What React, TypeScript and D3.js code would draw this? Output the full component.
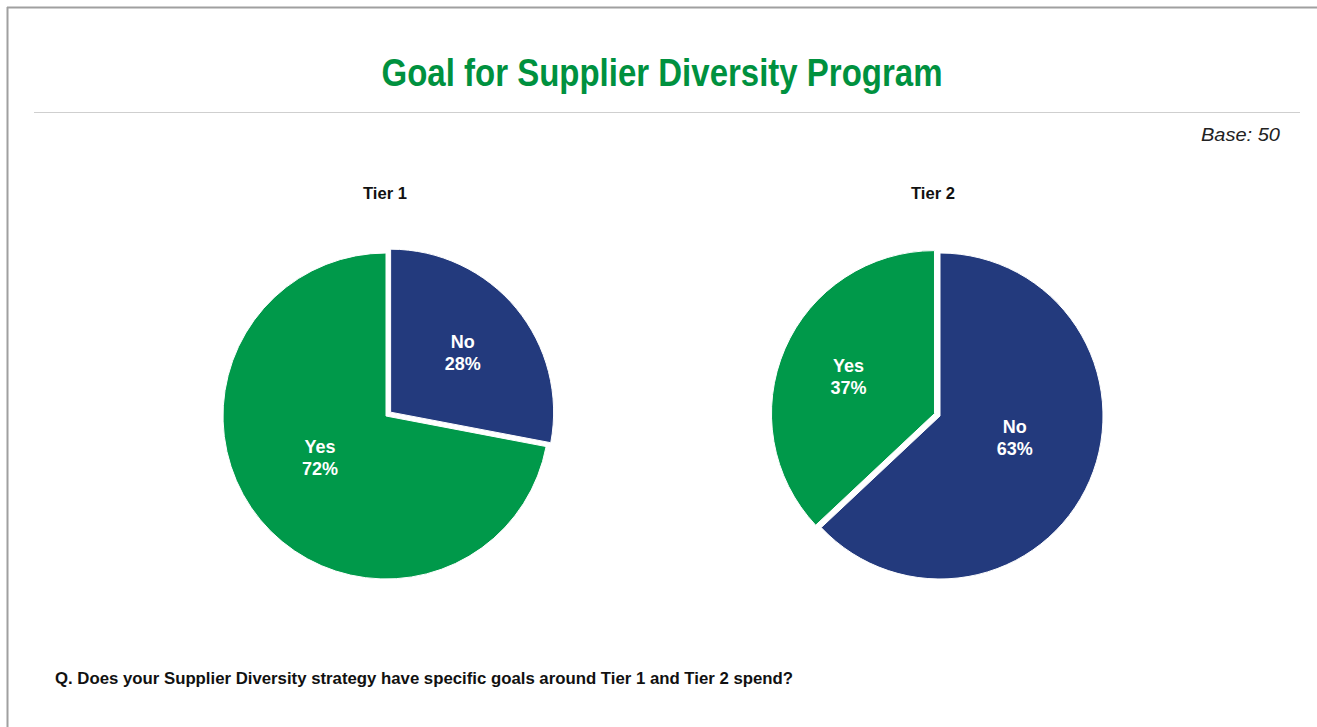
import React from "react";
import * as d3 from "d3";

const W = 1317;
const H = 727;

const TITLE = "Goal for Supplier Diversity Program";
const BASE_NOTE = "Base: 50";
const QUESTION = "Q. Does your Supplier Diversity strategy have specific goals around Tier 1 and Tier 2 spend?";

const pieTitles = ["Tier 1", "Tier 2"];
const sliceLabels = ["No", "Yes"];
const tier1Values = [28, 72];
const tier2Values = [63, 37];
const explodedSlice = ["No", "Yes"];

const COLORS: Record<string, string> = { No: "#233A7D", Yes: "#00994A" };
const SANS = "'Liberation Sans', Arial, Helvetica, sans-serif";

type Datum = { label: string; value: number };
type PieSpec = { title: string; values: number[]; exploded: string; cx: number; cy: number; titleDx: number };

function Pie({ spec }: { spec: PieSpec }) {
  const r = 163;
  const data: Datum[] = sliceLabels.map((l, i) => ({ label: l, value: spec.values[i] }));
  const pieGen = d3
    .pie<Datum>()
    .sort(null)
    .value((d) => d.value);
  const arcs = pieGen(data);
  const arcGen = d3.arc<d3.PieArcDatum<Datum>>().innerRadius(0).outerRadius(r);
  const explode = 6;
  const total = d3.sum(spec.values);
  return (
    <g transform={`translate(${spec.cx},${spec.cy})`}>
      <text
        x={spec.titleDx}
        y={-217}
        textAnchor="middle"
        fontFamily={SANS}
        fontWeight="bold"
        fontSize={16}
        fill="#111"
        textLength={44}
        lengthAdjust="spacingAndGlyphs"
      >
        {spec.title}
      </text>
      {arcs.map((a) => {
        const mid = (a.startAngle + a.endAngle) / 2;
        const off = a.data.label === spec.exploded ? explode : 0;
        const dx = Math.sin(mid) * off;
        const dy = -Math.cos(mid) * off;
        const frac = a.data.value / total;
        const big = frac > 0.5;
        // large slices: label sits closer in and nearer the horizontal
        let la = mid;
        if (big) {
          const horiz = Math.sin(mid) >= 0 ? Math.PI / 2 : (3 * Math.PI) / 2;
          la = mid + Math.sign(horiz - mid) * (8 * Math.PI) / 180;
        }
        const lr = big ? r * 0.475 : r * 0.575;
        const lx = Math.sin(la) * lr + dx;
        const ly = -Math.cos(la) * lr + dy;
        return (
          <g key={a.data.label}>
            <path
              d={arcGen(a) || ""}
              transform={`translate(${dx},${dy})`}
              fill={COLORS[a.data.label]}
              stroke="#fff"
              strokeWidth={1}
            />
            <text
              x={lx}
              y={ly - 4}
              textAnchor="middle"
              fontFamily={SANS}
              fontWeight="bold"
              fontSize={18}
              fill="#fff"
            >
              {a.data.label}
            </text>
            <text
              x={lx}
              y={ly + 18}
              textAnchor="middle"
              fontFamily={SANS}
              fontWeight="bold"
              fontSize={18}
              fill="#fff"
            >
              {`${a.data.value}%`}
            </text>
          </g>
        );
      })}
    </g>
  );
}

export default function App() {
  const specs: PieSpec[] = [
    { title: pieTitles[0], values: tier1Values, exploded: explodedSlice[0], cx: 386, cy: 416, titleDx: -1 },
    { title: pieTitles[1], values: tier2Values, exploded: explodedSlice[1], cx: 940, cy: 416, titleDx: -7 },
  ];
  return (
    <svg
      width={W}
      height={H}
      style={{ position: "absolute", left: 0, top: 0, background: "#fff" }}
    >
      <rect x={0} y={0} width={W} height={H} fill="#fff" />
      <line x1={7} y1={7.5} x2={W} y2={7.5} stroke="#a0a0a0" strokeWidth={2} />
      <line x1={7.5} y1={7} x2={7.5} y2={H} stroke="#a0a0a0" strokeWidth={2} />
      <text
        x={662}
        y={86}
        textAnchor="middle"
        fontFamily={SANS}
        fontWeight="bold"
        fontSize={39}
        fill="#00913F"
        textLength={561}
        lengthAdjust="spacingAndGlyphs"
      >
        {TITLE}
      </text>
      <line x1={34} y1={112.5} x2={1300} y2={112.5} stroke="#cfcfcf" strokeWidth={1} />
      <text
        x={1280}
        y={141}
        textAnchor="end"
        fontFamily={SANS}
        fontStyle="italic"
        fontSize={19}
        fill="#222"
        textLength={79}
        lengthAdjust="spacingAndGlyphs"
      >
        {BASE_NOTE}
      </text>
      {specs.map((s) => (
        <Pie key={s.title} spec={s} />
      ))}
      <text
        x={55}
        y={684}
        fontFamily={SANS}
        fontWeight="bold"
        fontSize={17}
        fill="#111"
        textLength={738}
        lengthAdjust="spacingAndGlyphs"
      >
        {QUESTION}
      </text>
    </svg>
  );
}
